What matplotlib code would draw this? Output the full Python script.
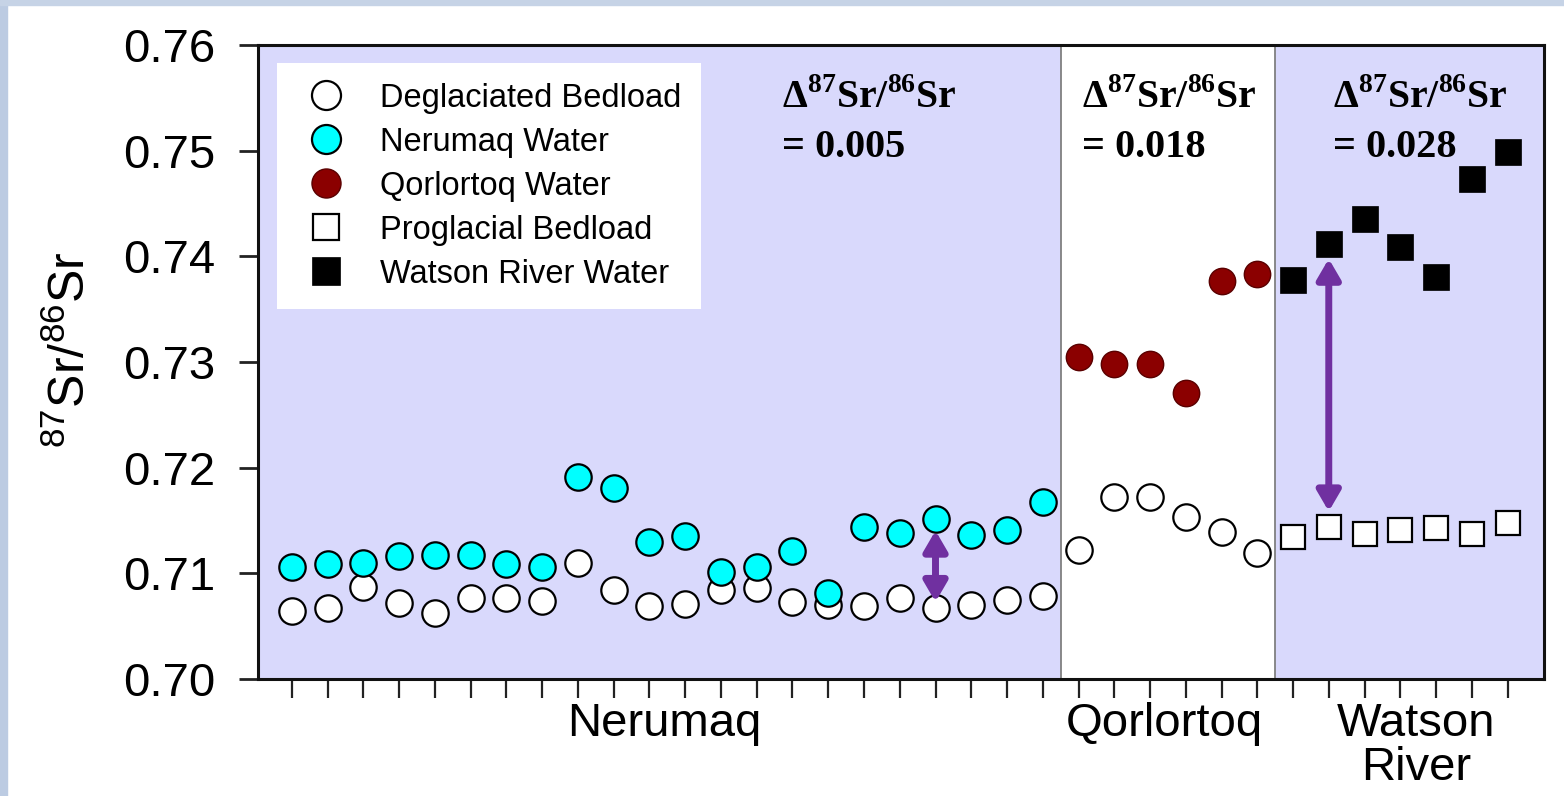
import numpy as np
import matplotlib.pyplot as plt
from matplotlib.patches import Rectangle

plt.rcParams['font.family'] = ['Liberation Sans', 'DejaVu Sans']
plt.rcParams['mathtext.fontset'] = 'custom'
plt.rcParams['mathtext.rm'] = 'Liberation Sans'
plt.rcParams['mathtext.bf'] = 'Liberation Serif:bold'

# sample positions along the x axis, one per site
nerumaq_idx = np.arange(1, 23)
qorlortoq_idx = np.arange(23, 29)
watson_idx = np.arange(29, 36)

# 87Sr/86Sr
deglaciated_bedload = [0.70646, 0.70675, 0.70873, 0.70716, 0.70627, 0.70764, 0.70764, 0.70741,
                       0.71095, 0.70842, 0.70691, 0.70707, 0.70842, 0.70858, 0.70732, 0.70700,
                       0.70691, 0.70764, 0.70669, 0.70700, 0.70748, 0.70789,
                       0.71221, 0.71725, 0.71725, 0.71536, 0.71388, 0.71190]
nerumaq_water = [0.71063, 0.71088, 0.71101, 0.71164, 0.71174, 0.71174, 0.71086, 0.71063,
                 0.71909, 0.71805, 0.71299, 0.71353, 0.71015, 0.71063, 0.71211, 0.70817,
                 0.71441, 0.71379, 0.71514, 0.71363, 0.71410, 0.71678]
qorlortoq_water = [0.73044, 0.72978, 0.72978, 0.72710, 0.73769, 0.73833]
proglacial_bedload = [0.71341, 0.71436, 0.71369, 0.71410, 0.71426, 0.71372, 0.71473]
watson_water = [0.73776, 0.74117, 0.74350, 0.74085, 0.73801, 0.74729, 0.74990]

groups = ['Nerumaq', 'Qorlortoq', 'Watson\nRiver']
delta_values = ['0.005', '0.018', '0.028']

lavender = '#d9d9fc'
purple = '#7030a0'

fig = plt.figure(figsize=(15.64, 7.96), dpi=100)
# slide background peeking at the left and top edge
fig.patches.append(Rectangle((0, 0), 7 / 1564, 1, transform=fig.transFigure,
                             color='#bccbe2', zorder=-5))
fig.patches.append(Rectangle((0, 1 - 5 / 796), 1, 5 / 796, transform=fig.transFigure,
                             color='#c6d3e6', zorder=-5))
ax = fig.add_axes([258 / 1564, 1 - 679 / 796, 1286 / 1564, 634 / 796])

all_idx = np.concatenate([nerumaq_idx, qorlortoq_idx, watson_idx])
b1 = nerumaq_idx[-1] + 0.5
b2 = qorlortoq_idx[-1] + 0.5
ax.set_xlim(0.05, 36.02)
ax.set_ylim(0.70, 0.76)
ax.axvspan(0, b1, color=lavender, zorder=0, lw=0)
ax.axvspan(b2, 37, color=lavender, zorder=0, lw=0)
ax.axvline(b1, color='#808080', lw=1.3, zorder=1)
ax.axvline(b2, color='#808080', lw=1.3, zorder=1)

deg_idx = np.concatenate([nerumaq_idx, qorlortoq_idx])
ms_c = 19
ax.plot(deg_idx, deglaciated_bedload, 'o', ms=ms_c, mfc='white', mec='black', mew=1.6,
        zorder=3, label='Deglaciated Bedload')
ax.plot(nerumaq_idx, nerumaq_water, 'o', ms=ms_c, mfc='#00ffff', mec='black', mew=1.6,
        zorder=4, label='Nerumaq Water')
ax.plot(qorlortoq_idx, qorlortoq_water, 'o', ms=ms_c, mfc='#8b0000', mec='#5a0000', mew=1.0,
        zorder=4, label='Qorlortoq Water')
ax.plot(watson_idx, proglacial_bedload, 's', ms=17.5, mfc='white', mec='black', mew=1.6,
        zorder=3, label='Proglacial Bedload')
ax.plot(watson_idx, watson_water, 's', ms=18.5, mfc='black', mec='black', mew=0.5,
        zorder=4, label='Watson River Water')

# purple double arrows marking the water-bedload offset
arrow_kw = dict(arrowstyle='<|-|>,head_length=1.2,head_width=0.7', color=purple, lw=5,
                mutation_scale=10, shrinkA=0, shrinkB=0)
k = 18
ax.annotate('', xy=(nerumaq_idx[k], deglaciated_bedload[k] + 0.0006),
            xytext=(nerumaq_idx[k], nerumaq_water[k] - 0.0011), arrowprops=arrow_kw, zorder=6)
k = 1
ax.annotate('', xy=(watson_idx[k], proglacial_bedload[k] + 0.0015),
            xytext=(watson_idx[k], watson_water[k] - 0.0014), arrowprops=arrow_kw, zorder=6)

# delta annotations
ann_x = [14.71, 23.1, 30.12]
for x, d in zip(ann_x, delta_values):
    ax.text(x, 0.9006, r'Δ$^{\mathbf{87}}$Sr/$^{\mathbf{86}}$Sr', transform=ax.get_xaxis_transform(),
            family='Liberation Serif', weight='bold', fontsize=28.5, va='baseline', zorder=7)
    ax.text(x, 0.8233, '= ' + d, transform=ax.get_xaxis_transform(),
            family='Liberation Serif', weight='bold', fontsize=29, va='baseline', zorder=7)

# group labels under the axis
grp_x = [nerumaq_idx.mean() - 0.1, qorlortoq_idx.mean() - 0.1, watson_idx.mean() + 0.45]
for x, g in zip(grp_x, groups):
    ax.text(x, -0.036, g, transform=ax.get_xaxis_transform(), ha='center', va='top',
            fontsize=34, linespacing=1.0)

ax.set_xticks(all_idx)
ax.set_xticklabels([])
ax.set_yticks(np.arange(0.70, 0.7601, 0.01))
ax.set_yticklabels(['%.2f' % v for v in np.arange(0.70, 0.7601, 0.01)])
ax.tick_params(axis='x', direction='out', length=14, width=1.6, color='#222222')
ax.tick_params(axis='y', direction='out', length=14, width=2, color='#222222', pad=17,
               labelsize=34)
for s in ax.spines.values():
    s.set_linewidth(2.2)
    s.set_color('#111111')
    s.set_zorder(8)

ax.set_ylabel(r'$^{87}$Sr/$^{86}$Sr', fontsize=36)
ax.yaxis.set_label_coords(-0.127, 0.519)

leg = ax.legend(loc='upper left', bbox_to_anchor=(0.0148, 0.9716), borderaxespad=0,
                fontsize=23.5, frameon=True, fancybox=False, framealpha=1, edgecolor='none',
                facecolor='white', borderpad=0.6, labelspacing=0.4, handlelength=1.8,
                handletextpad=0.75, markerscale=1.1)
leg.set_zorder(9)

fig.savefig('out.png', dpi=100, facecolor='white')
